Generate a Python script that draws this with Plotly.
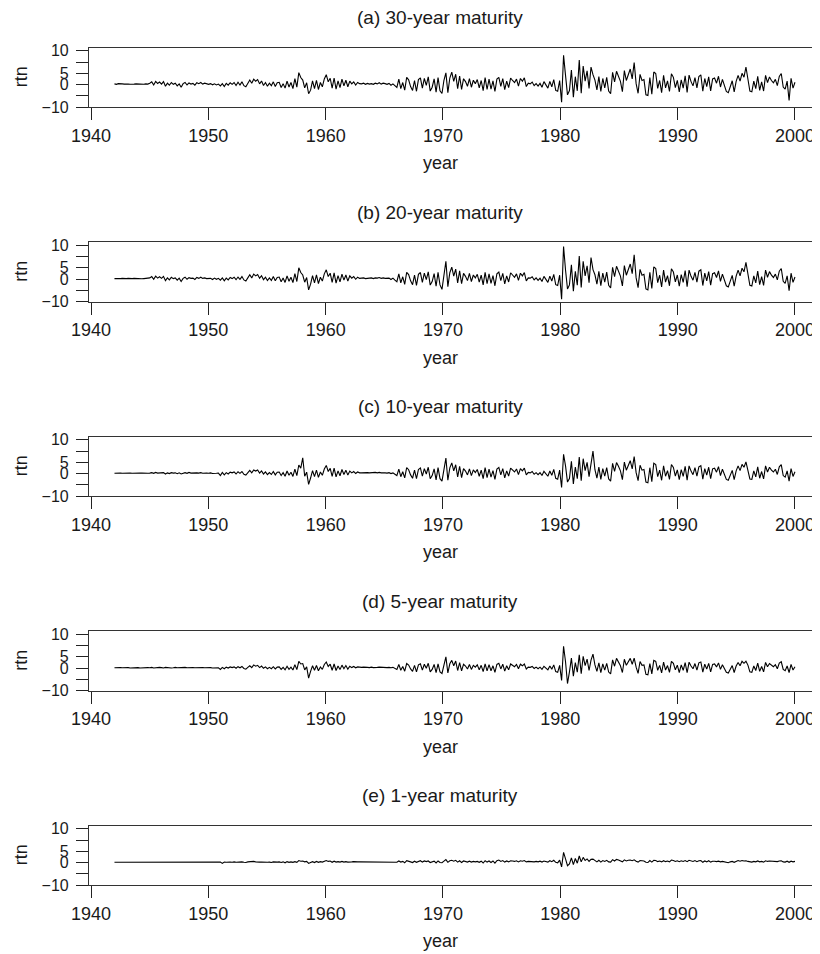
import numpy as np
import plotly.graph_objects as go

# ---------------- data (bimonthly readings, 1942-1999) ----------------
rtn_30y = [
    0.3,0.1,0.4,0.2,0.3,0.2,  0.3,0.2,0.1,0.3,0.2,0.3,  0.2,0.3,0.2,0.1,0.3,0.2,
    0.6,1.2,-0.2,1.4,0.5,1.1,  0.2,1.3,-0.8,0.6,-0.3,0.9,  0.1,0.6,-0.6,0.3,-1.2,0.4,
    0.9,-0.2,0.7,0.2,0.5,-0.3,  0.8,0.4,0.9,0.2,0.6,0.3,  0.1,0.4,-0.1,0.3,-0.2,0.2,
    -0.6,0.4,-0.9,0.5,-0.3,0.8,  0.1,0.9,-0.4,1.0,-0.2,1.2,  -0.5,-1.0,0.4,2.0,0.6,2.4,
    1.5,2.2,0.3,1.6,-0.4,0.9,  -0.8,0.6,-0.5,1.2,-0.9,0.8,  1.0,-1.3,0.4,-1.6,1.5,-1.1,
    0.9,-1.8,2.6,-1.2,5.3,3.1,  2.0,-1.5,0.8,-4.1,-2.5,1.6,  -1.8,1.9,-2.2,0.9,-1.0,2.5,
    4.4,1.2,2.8,-1.6,2.9,-2.0,  1.6,-1.4,2.4,-0.6,1.9,-1.0,  1.5,0.3,1.2,-0.2,0.9,0.4,
    0.3,0.6,0.1,0.5,0.2,0.4,  0.1,0.6,0.3,0.8,0.2,0.6,  0.4,0.1,0.5,-0.3,0.3,-0.6,
    -1.3,2.4,-1.8,0.9,-2.5,3.2,  2.1,-0.9,-2.6,1.8,-3.0,2.2,  3.0,-1.6,2.7,-0.4,3.4,-2.9,
    -1.2,2.5,-3.4,3.1,-2.8,-4.0,  1.9,5.2,-3.6,2.9,5.5,1.4,  4.6,-1.8,3.8,-2.2,2.6,1.3,
    -0.8,2.6,-1.2,1.9,0.4,2.2,  -1.5,1.8,-2.7,3.1,-2.2,2.4,  -2.0,1.6,-3.1,2.4,3.2,-0.8,
    2.6,-2.3,1.5,-1.4,2.9,1.8,  0.9,2.4,-0.7,2.7,1.5,3.0,  -0.9,0.6,0.3,1.1,-0.5,0.4,
    -0.7,0.5,-1.2,1.3,-0.4,-1.6,  1.4,-1.0,2.2,-2.6,-3.0,1.8,  -7.9,13.0,4.1,-4.6,-2.7,6.5,
    -5.6,3.5,-2.8,10.9,-3.9,8.2,  1.5,6.1,-1.7,7.8,4.4,2.0,  -2.4,3.5,-3.1,2.7,-1.5,3.2,
    -2.9,-4.1,5.4,1.2,5.9,3.8,  1.4,-3.2,6.2,1.8,4.6,6.9,  2.5,9.8,0.4,-3.9,4.5,1.8,
    2.2,-4.6,-4.9,3.1,-4.3,5.6,  4.9,-1.7,1.8,-3.6,4.1,-1.5,  1.6,-3.1,4.8,3.2,-1.4,1.9,
    -3.3,2.1,-1.6,3.9,-3.5,4.2,  1.3,-0.6,3.1,-1.5,3.6,4.3,  -3.0,2.7,-0.9,3.4,-2.8,2.5,
    2.9,0.6,3.7,-1.1,2.3,-0.4,  -3.1,-3.6,-0.9,1.7,-3.3,1.4,  4.1,1.5,5.0,3.3,7.8,1.9,
    -2.9,-3.2,1.5,-1.8,3.6,-2.6,  1.2,-2.9,4.1,0.9,3.4,1.8,  0.8,2.3,-0.5,3.6,4.9,-1.1,
    -2.0,1.5,-7.1,2.8,-1.6,1.0,
]

rtn_20y = [
    0.2,0.1,0.3,0.2,0.3,0.1,  0.2,0.3,0.1,0.2,0.3,0.2,  0.3,0.2,0.1,0.2,0.3,0.2,
    0.5,1.1,-0.1,1.3,0.4,1.0,  0.3,1.2,-0.7,0.5,-0.4,0.8,  0.2,0.5,-0.5,0.4,-1.1,0.3,
    0.8,-0.1,0.6,0.3,0.4,-0.2,  0.7,0.3,0.8,0.3,0.5,0.2,  0.2,0.3,-0.2,0.4,-0.1,0.3,
    -0.5,0.5,-0.8,0.4,-0.4,0.7,  0.2,0.8,-0.3,0.9,-0.1,1.1,  -0.4,-0.9,0.5,1.9,0.5,2.2,
    1.4,2.0,0.4,1.5,-0.3,0.8,  -0.7,0.5,-0.6,1.1,-0.8,0.7,  0.9,-1.2,0.5,-1.5,1.4,-1.0,
    0.8,-1.6,2.4,-1.1,5.0,2.9,  1.8,-1.4,0.7,-4.8,-2.3,1.5,  -1.7,1.8,-2.0,0.8,-0.9,2.3,
    4.1,1.1,2.6,-1.5,2.7,-1.8,  1.5,-1.3,2.2,-0.5,1.8,-0.9,  1.4,0.4,1.1,-0.1,0.8,0.3,
    0.4,0.5,0.2,0.4,0.3,0.5,  0.2,0.5,0.4,0.7,0.3,0.5,  0.3,0.2,0.4,-0.2,0.4,-0.5,
    -1.2,2.3,-1.7,1.0,-2.4,3.0,  2.0,-0.8,-2.5,1.7,-2.8,2.1,  2.9,-1.5,2.6,-0.3,3.2,-2.7,
    -1.1,2.4,-3.2,3.0,-2.6,-4.6,  1.8,7.9,-3.4,2.8,5.3,1.3,  4.4,-1.7,3.6,-2.1,2.5,1.2,
    -0.7,2.5,-1.1,1.8,0.5,2.1,  -1.4,1.7,-2.6,3.0,-2.1,2.3,  -1.9,1.5,-3.0,2.3,3.1,-0.7,
    2.5,-2.2,1.4,-1.3,2.8,1.7,  0.8,2.3,-0.6,2.6,1.4,2.9,  -0.8,0.5,0.4,1.0,-0.4,0.5,
    -0.6,0.4,-1.1,1.2,-0.3,-1.5,  1.3,-0.9,2.1,-2.5,-2.9,1.7,  -9.0,14.5,4.0,-4.4,-2.6,6.3,
    -5.4,3.4,-2.7,10.2,-3.8,7.9,  1.4,5.9,-1.6,9.6,4.2,1.9,  -2.3,3.4,-3.0,2.6,-1.4,3.1,
    -2.8,-4.0,5.2,1.1,5.7,3.7,  1.3,-3.1,6.0,1.7,4.4,6.7,  2.4,10.8,0.5,-3.8,4.3,1.7,
    2.1,-4.4,-4.8,3.0,-4.2,5.4,  4.7,-1.6,1.7,-3.5,4.0,-1.4,  1.5,-3.0,4.6,3.1,-1.3,1.8,
    -3.2,2.0,-1.5,3.8,-3.4,4.0,  1.2,-0.5,3.0,-1.4,3.5,4.1,  -2.9,2.6,-0.8,3.3,-2.7,2.4,
    2.8,0.7,3.6,-1.0,2.2,-0.3,  -3.0,-3.5,-0.8,1.6,-3.2,1.3,  4.0,1.4,4.8,3.2,7.4,1.8,
    -2.8,-3.1,1.4,-1.7,3.5,-2.5,  1.1,-2.8,4.0,0.8,3.3,1.7,  0.7,2.2,-0.4,3.5,4.7,-1.0,
    -1.9,1.4,-5.2,2.6,-1.5,0.9,
]

rtn_10y = [
    0.1,0.2,0.1,0.2,0.1,0.2,  0.2,0.1,0.2,0.1,0.2,0.1,  0.1,0.2,0.2,0.1,0.2,0.1,
    0.2,0.4,0.1,0.5,0.2,0.3,  0.1,0.4,-0.2,0.3,0.0,0.4,  0.2,0.3,-0.1,0.3,-0.2,0.2,
    0.4,0.1,0.5,0.2,0.3,0.1,  0.3,0.2,0.4,0.1,0.3,0.2,  0.1,0.3,0.0,0.2,0.1,0.2,
    -0.9,0.5,-0.6,0.4,-0.2,0.6,  0.3,0.7,-0.2,0.8,0.1,0.9,  -0.3,-0.7,0.4,1.4,0.3,1.6,
    1.1,1.6,0.2,1.2,-0.2,0.7,  -0.5,0.4,-0.4,0.9,-0.6,0.6,  0.7,-0.9,0.4,-1.2,1.1,-0.8,
    0.6,-1.3,2.0,-0.9,3.8,2.4,  7.0,-1.2,0.6,-4.8,-2.0,1.3,  -1.4,1.5,-1.7,0.7,-0.8,2.0,
    3.6,0.9,2.3,-1.3,2.4,-1.5,  1.2,-1.0,1.8,-0.4,1.5,-0.7,  1.1,0.3,0.9,0.0,0.7,0.3,
    0.3,0.4,0.2,0.4,0.3,0.4,  0.2,0.5,0.3,0.5,0.3,0.4,  0.3,0.2,0.4,0.0,0.3,-0.3,
    -0.9,2.0,-1.4,0.8,-1.9,2.6,  1.7,-0.6,-2.1,1.5,-2.3,1.8,  2.5,-1.2,2.2,-0.2,2.8,-2.3,
    -0.9,2.1,-2.8,2.6,-2.3,-3.4,  1.6,6.9,-3.0,2.5,4.7,1.2,  3.9,-1.5,3.2,-1.8,2.2,1.1,
    -0.6,2.1,-0.9,1.6,0.4,1.8,  -1.2,1.5,-2.3,2.6,-1.8,2.0,  -1.6,1.3,-2.6,2.0,2.7,-0.6,
    2.2,-1.9,1.2,-1.1,2.4,1.5,  0.7,2.0,-0.5,2.2,1.2,2.4,  -0.6,0.5,0.3,0.9,-0.3,0.4,
    -0.5,0.4,-0.9,1.0,-0.2,-1.2,  1.1,-0.8,1.8,-2.1,-2.5,1.5,  -6.2,8.6,3.4,-3.8,-2.2,5.4,
    -4.6,2.9,-2.3,7.3,-3.2,6.6,  1.3,5.0,-1.4,4.2,10.0,1.7,  -2.0,2.9,-2.6,2.2,-1.2,2.6,
    -2.4,-3.4,4.5,1.0,4.9,3.2,  1.2,-2.7,5.1,1.5,3.8,5.7,  2.1,7.5,0.4,-3.2,3.7,1.5,
    1.8,-3.8,-4.1,2.6,-3.6,4.6,  4.0,-1.4,1.5,-3.0,3.4,-1.2,  1.3,-2.6,4.0,2.7,-1.1,1.6,
    -2.7,1.7,-1.3,3.2,-2.9,3.4,  1.1,-0.5,2.6,-1.2,3.0,3.5,  -2.5,2.2,-0.7,2.8,-2.3,2.1,
    2.4,0.6,3.1,-0.9,1.9,-0.3,  -2.6,-3.0,-0.7,1.4,-2.7,1.2,  3.4,1.3,4.1,2.8,5.2,1.6,
    -2.4,-2.6,1.2,-1.5,3.0,-2.1,  0.9,-2.4,3.4,0.7,2.8,1.5,  0.7,1.9,-0.4,3.0,4.0,-0.9,
    -1.6,1.2,-3.4,2.2,-1.3,0.8,
]

rtn_5y = [
    0.1,0.2,0.0,0.2,0.1,0.2,  0.1,0.2,0.0,0.1,0.2,0.1,  0.2,0.0,0.1,0.2,0.1,0.2,
    0.1,0.3,0.0,0.2,0.1,0.3,  0.2,0.0,0.3,0.1,0.2,0.0,  0.1,0.3,0.1,0.2,0.0,0.2,
    0.3,0.1,0.2,0.0,0.2,0.1,  0.2,0.0,0.3,0.2,0.1,0.2,  0.1,0.2,0.0,0.1,0.2,0.1,
    -0.6,0.3,-0.3,0.4,0.0,0.5,  0.2,0.5,-0.1,0.6,0.1,0.7,  -0.2,-0.5,0.3,1.0,0.2,1.4,
    0.8,1.2,0.2,0.9,-0.1,0.5,  -0.3,0.3,-0.3,0.6,-0.4,0.4,  0.5,-0.6,0.3,-0.8,0.8,-0.6,
    0.4,-0.9,1.5,-0.7,3.0,1.8,  2.0,-0.8,0.5,-4.5,-1.5,1.0,  -1.0,1.1,-1.2,0.5,-0.6,1.6,
    2.7,0.7,1.7,-1.0,1.8,-1.1,  0.9,-0.7,1.3,-0.3,1.1,-0.5,  0.8,0.2,0.7,0.1,0.5,0.3,
    0.3,0.4,0.2,0.3,0.2,0.4,  0.2,0.4,0.3,0.4,0.3,0.3,  0.3,0.2,0.3,0.1,0.3,-0.2,
    -0.6,1.6,-1.0,0.7,-1.4,2.0,  1.3,-0.4,-1.5,1.2,-1.7,1.4,  1.9,-0.9,1.7,-0.1,2.1,-1.7,
    -0.6,1.6,-2.0,1.9,-1.7,-2.4,  1.3,5.0,-2.2,1.9,3.4,1.0,  3.1,-1.1,2.4,-1.3,1.7,0.9,
    -0.4,1.6,-0.6,1.2,0.4,1.4,  -0.8,1.2,-1.6,1.9,-1.3,1.5,  -1.2,1.0,-1.9,1.6,2.1,-0.4,
    1.7,-1.4,1.0,-0.8,1.8,1.2,  0.6,1.6,-0.3,1.7,1.0,1.8,  -0.4,0.4,0.3,0.7,-0.2,0.4,
    -0.3,0.4,-0.6,0.8,-0.1,-0.8,  0.9,-0.5,1.4,-1.6,-1.9,1.2,  -5.5,9.7,2.8,-6.9,-1.7,4.4,
    -3.6,2.4,-1.8,5.9,-2.5,5.2,  1.1,4.0,-1.1,3.5,6.2,1.4,  -1.5,2.3,-2.0,1.8,-0.9,2.1,
    -1.8,-2.6,3.6,0.8,4.3,2.6,  1.0,-2.0,3.9,1.2,3.0,4.3,  1.7,4.4,0.4,-2.4,2.9,1.2,
    1.4,-2.8,-3.0,2.0,-2.6,3.4,  3.0,-1.0,1.2,-2.2,2.6,-0.9,  1.1,-1.9,3.0,2.1,-0.8,1.3,
    -2.0,1.4,-1.0,2.4,-2.1,2.6,  0.9,-0.3,2.0,-0.9,2.3,2.7,  -1.8,1.7,-0.5,2.1,-1.7,1.6,
    1.8,0.5,2.3,-0.6,1.5,-0.2,  -1.9,-2.2,-0.5,1.1,-2.0,0.9,  2.5,1.0,3.0,2.1,3.0,1.3,
    -1.7,-1.9,0.9,-1.1,2.2,-1.5,  0.7,-1.7,2.5,0.6,2.0,1.1,  0.6,1.5,-0.3,2.2,2.8,-0.6,
    -1.2,0.9,-2.0,1.6,-0.9,0.6,
]

rtn_1y = [
    0.1,0.1,0.1,0.1,0.1,0.1,  0.1,0.1,0.1,0.1,0.1,0.1,  0.1,0.1,0.1,0.1,0.1,0.1,
    0.1,0.1,0.1,0.1,0.1,0.1,  0.1,0.1,0.1,0.1,0.1,0.1,  0.1,0.1,0.1,0.1,0.1,0.1,
    0.1,0.2,0.1,0.1,0.1,0.2,  0.1,0.1,0.2,0.1,0.1,0.1,  0.1,0.1,0.1,0.2,0.1,0.1,
    0.2,-0.4,0.2,0.1,0.3,0.2,  0.1,0.3,0.1,0.2,0.2,0.3,  0.1,0.0,0.3,0.4,0.2,0.5,
    0.3,0.4,0.2,0.2,0.1,0.2,  0.1,0.2,0.0,0.3,0.1,0.2,  0.3,0.0,0.3,-0.1,0.4,0.1,
    0.3,0.1,0.4,0.1,0.9,0.6,  0.7,0.3,0.5,-0.4,0.0,0.4,  0.0,0.5,0.1,0.4,0.2,0.6,
    0.9,0.5,0.7,0.1,0.6,0.2,  0.4,0.2,0.5,0.2,0.4,0.2,  0.4,0.3,0.4,0.2,0.3,0.3,
    0.3,0.3,0.3,0.2,0.3,0.3,  0.3,0.4,0.3,0.3,0.4,0.3,  0.3,0.4,0.3,0.2,0.4,0.2,
    0.1,0.7,0.2,0.5,-0.1,0.8,  0.7,0.3,0.0,0.6,0.1,0.5,  0.8,0.2,0.7,0.4,0.7,0.0,
    0.3,0.6,-0.2,0.7,0.0,-0.1,  0.6,1.3,0.1,0.8,1.0,0.6,  1.0,0.2,0.8,0.0,0.7,0.6,
    0.2,0.6,0.2,0.5,0.3,0.5,  0.1,0.6,-0.2,0.8,0.2,0.7,  0.0,0.7,-0.3,0.8,1.1,0.5,
    0.9,0.2,0.7,0.3,0.8,0.7,  0.5,0.8,0.3,0.8,0.6,0.9,  0.3,0.5,0.4,0.6,0.3,0.5,
    0.3,0.6,0.2,0.7,0.4,0.2,  0.8,0.4,1.0,0.1,-0.1,1.1,  -1.9,4.5,1.6,-1.4,-0.6,2.1,
    -0.9,1.8,-0.3,2.9,0.3,2.3,  0.9,1.6,0.5,1.4,1.5,1.0,  0.3,1.0,0.2,0.9,0.5,1.0,
    0.3,0.2,1.3,0.7,1.4,1.1,  0.8,0.3,1.2,0.7,1.0,1.1,  0.8,1.2,0.6,0.2,0.9,0.7,
    0.7,0.1,0.0,0.9,0.2,1.0,  0.9,0.4,0.7,0.3,0.8,0.4,  0.7,0.3,1.1,0.9,0.5,0.8,
    0.4,0.8,0.5,0.9,0.4,1.0,  0.7,0.5,0.9,0.4,0.8,0.9,  0.1,0.7,0.3,0.8,0.2,0.6,
    0.6,0.4,0.6,0.3,0.5,0.3,  0.0,-0.1,0.3,0.5,0.1,0.4,  0.9,0.6,0.9,0.7,0.8,0.5,
    0.3,0.2,0.5,0.3,0.7,0.3,  0.5,0.2,0.8,0.5,0.7,0.6,  0.5,0.7,0.4,0.7,0.8,0.3,
    0.2,0.6,0.1,0.6,0.3,0.5,
]

panel_titles = ["(a) 30-year maturity", "(b) 20-year maturity", "(c) 10-year maturity",
                "(d) 5-year maturity", "(e) 1-year maturity"]
series = [rtn_30y, rtn_20y, rtn_10y, rtn_5y, rtn_1y]
start_year, end_year = 1942, 2000
x_tickvals = [1940, 1950, 1960, 1970, 1980, 1990, 2000]
x_ticktext = ["1940", "1950", "1960", "1970", "1980", "1990", "2000"]
y_tickvals = [-10, -5, 0, 5, 10, 15]
y_ticktext = ["\u221210", "", "0", "5", "", "10"]

# ---------------- layout ----------------
# The page body has an 8px margin, so the figure starts at (8, 8) of the window.
OFF = 8
W, H = 820 - OFF, 954 - OFF
FONT = "Liberation Sans, Arial, Helvetica, sans-serif"
TXT = "#1a1a1a"


def px_x(p):  # window pixel -> paper x
    return (p - OFF) / W


def px_y(p):  # window pixel -> paper y
    return 1 - (p - OFF) / H


box_left, box_right = 89, 816
px_per_year = 11.733
x_range = [1940 - (91 - box_left) / px_per_year, 1940 + (box_right - 91) / px_per_year]
y_range = [-10, 16.4]
first_top, step, box_h = 47.7, 194.5, 59.3

fig = go.Figure()
annotations = []
for k, (title, vals) in enumerate(zip(panel_titles, series)):
    top = first_top + k * step
    bot = top + box_h
    sfx = "" if k == 0 else str(k + 1)
    xs = np.linspace(start_year, end_year, len(vals))
    fig.add_trace(go.Scatter(x=xs, y=vals, mode="lines",
                             line=dict(color="black", width=1.1),
                             xaxis="x" + sfx, yaxis="y" + sfx,
                             showlegend=False, hoverinfo="skip"))
    fig.layout["xaxis" + sfx] = dict(
        domain=[px_x(box_left), px_x(box_right)], range=x_range, anchor="y" + sfx,
        automargin=False,
        tickvals=x_tickvals, ticktext=x_ticktext, ticks="outside", ticklen=12,
        tickwidth=1.3, tickcolor="#222", showline=True, mirror=True,
        linecolor="#333", linewidth=1.2, showgrid=False, zeroline=False,
        tickfont=dict(family=FONT, size=18, color=TXT))
    fig.layout["yaxis" + sfx] = dict(
        domain=[px_y(bot), px_y(top)], range=y_range, anchor="x" + sfx,
        automargin=False,
        tickvals=y_tickvals, ticktext=y_ticktext, ticks="outside", ticklen=12,
        tickwidth=1.3, tickcolor="#222", showline=True, mirror=True,
        linecolor="#333", linewidth=1.2, showgrid=False, zeroline=False,
        tickfont=dict(family=FONT, size=16, color=TXT), ticklabelstandoff=4)
    annotations.append(dict(text=title, x=px_x(440), y=px_y(top - 30),
                            xref="paper", yref="paper", showarrow=False,
                            xanchor="center", yanchor="middle",
                            font=dict(family=FONT, size=19, color=TXT)))
    annotations.append(dict(text="rtn", x=px_x(21), y=px_y(top + box_h / 2),
                            xref="paper", yref="paper", showarrow=False,
                            xanchor="center", yanchor="middle", textangle=-90,
                            font=dict(family=FONT, size=18, color=TXT)))
    annotations.append(dict(text="year", x=px_x(440), y=px_y(bot + 56),
                            xref="paper", yref="paper", showarrow=False,
                            xanchor="center", yanchor="middle",
                            font=dict(family=FONT, size=18, color=TXT)))

fig.update_layout(width=W, height=H, margin=dict(l=0, r=0, t=0, b=0),
                  paper_bgcolor="white", plot_bgcolor="white",
                  annotations=annotations, showlegend=False)
fig.write_html("out.html")
